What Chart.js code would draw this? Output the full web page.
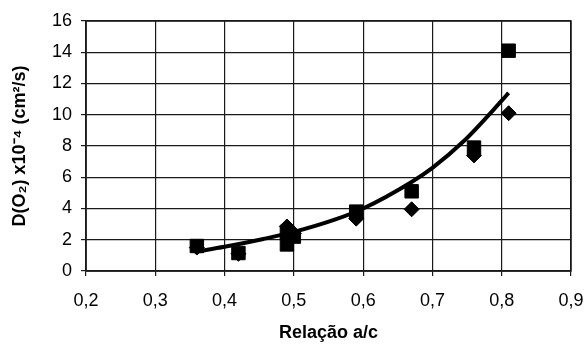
<!DOCTYPE html>
<html>
<head>
<meta charset="utf-8">
<script src="https://cdn.jsdelivr.net/npm/chart.js@4"></script>
<style>
  html, body { margin: 0; padding: 0; background: #fff; }
  #wrap { width: 585px; height: 348px; }
</style>
</head>
<body>
<div id="wrap"><canvas id="chart" width="585" height="348"></canvas></div>
<script>
// values
const squareX = [0.36, 0.42, 0.49, 0.49, 0.50, 0.59, 0.67, 0.76, 0.81];
const squareY = [1.6, 1.15, 1.7, 2.5, 2.2, 3.8, 5.1, 7.9, 14.1];
const diamondX = [0.36, 0.42, 0.49, 0.50, 0.59, 0.67, 0.76, 0.81];
const diamondY = [1.5, 1.1, 2.85, 2.4, 3.35, 3.95, 7.4, 10.1];
const trendX = [0.36, 0.40, 0.456, 0.50, 0.56, 0.60, 0.67, 0.70, 0.745, 0.80, 0.81];
const trendY = [1.25, 1.55, 2.05, 2.5, 3.3, 4.0, 5.7, 6.6, 8.3, 10.9, 11.4];
const xTicks = [0.2, 0.3, 0.4, 0.5, 0.6, 0.7, 0.8, 0.9];
const yTicks = [0, 2, 4, 6, 8, 10, 12, 14, 16];

const toPoints = (xs, ys) => xs.map((x, i) => ({ x, y: ys[i] }));

const FONT = "'Liberation Sans', Arial, sans-serif";

new Chart(document.getElementById('chart'), {
  type: 'scatter',
  data: {
    datasets: [
      {
        type: 'line',
        data: toPoints(trendX, trendY),
        borderColor: '#000',
        borderWidth: 4,
        pointRadius: 0,
        cubicInterpolationMode: 'monotone',
        fill: false,
      },
      {
        data: toPoints(squareX, squareY),
        pointStyle: 'rect',
        pointRadius: 9.5,
        backgroundColor: '#000',
        borderColor: '#000',
      },
      {
        data: toPoints(diamondX, diamondY),
        pointStyle: 'rectRot',
        pointRadius: 7.5,
        backgroundColor: '#000',
        borderColor: '#000',
      },
    ],
  },
  options: {
    responsive: false,
    animation: false,
    layout: { padding: { left: 9, right: 14, top: 21, bottom: 0 } },
    plugins: { legend: { display: false }, tooltip: { enabled: false } },
    scales: {
      x: {
        type: 'linear',
        min: 0.2,
        max: 0.9,
        afterBuildTicks: (axis) => { axis.ticks = xTicks.map(v => ({ value: v })); },
        afterFit: (axis) => {
          axis.height = 77;
          axis.paddingRight = 0;
          axis.paddingLeft = 0;
        },
        grid: { color: '#1a1a1a', lineWidth: 1.2, tickLength: 5 },
        border: { color: '#1a1a1a', width: 1.5 },
        ticks: {
          color: '#000',
          font: { family: FONT, size: 18 },
          padding: 14,
          maxRotation: 0,
          callback: (v) => v.toFixed(1).replace('.', ','),
        },
        title: {
          display: true,
          text: 'Relação a/c',
          color: '#000',
          font: { family: FONT, size: 18, weight: 'bold' },
          padding: { top: 6 },
        },
      },
      y: {
        min: 0,
        max: 16,
        afterBuildTicks: (axis) => { axis.ticks = yTicks.map(v => ({ value: v })); },
        afterFit: (axis) => { axis.width = 77; },
        grid: { color: '#1a1a1a', lineWidth: 1.2, tickLength: 5 },
        border: { color: '#1a1a1a', width: 1.5 },
        ticks: {
          color: '#000',
          font: { family: FONT, size: 18 },
          padding: 9,
        },
        title: {
          display: true,
          text: 'D(O₂) x10⁻⁴ (cm²/s)',
          color: '#000',
          font: { family: FONT, size: 18, weight: 'bold' },
          padding: { top: 0, bottom: 4 },
        },
      },
    },
  },
  plugins: [{
    id: 'frame',
    afterDraw(chart) {
      const { ctx, chartArea: a } = chart;
      ctx.save();
      ctx.strokeStyle = '#1a1a1a';
      ctx.lineWidth = 1.5;
      ctx.strokeRect(a.left, a.top, a.right - a.left, a.bottom - a.top);
      ctx.restore();
    },
  }],
});
</script>
</body>
</html>
